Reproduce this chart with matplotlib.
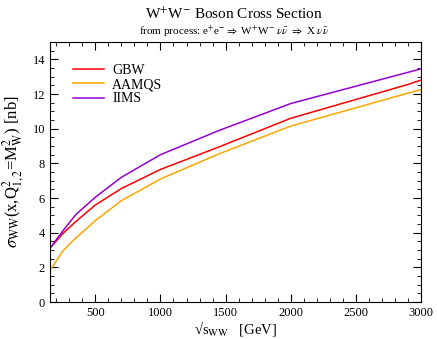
import matplotlib
matplotlib.use("Agg")
import matplotlib.pyplot as plt
from matplotlib.ticker import MultipleLocator

plt.rcParams['font.family'] = ['Liberation Serif', 'DejaVu Serif']
plt.rcParams['mathtext.fontset'] = 'stix'

# sqrt(s_WW) in GeV
s = [150, 250, 350, 500, 700, 1000, 1450, 2000, 2900, 3000]
gbw = [3.1, 3.95, 4.65, 5.6, 6.55, 7.65, 8.95, 10.6, 12.55, 12.8]
aamqs = [1.8, 2.95, 3.7, 4.7, 5.85, 7.1, 8.55, 10.15, 12.05, 12.25]
iims = [3.1, 4.1, 5.05, 6.05, 7.2, 8.5, 9.9, 11.45, 13.25, 13.45]

fig = plt.figure(figsize=(4.37, 3.39), dpi=100)
ax = fig.add_axes([0.114, 0.109, 0.849, 0.767])

ax.plot(s, gbw, color='#ff0000', lw=1.1, label='GBW')
ax.plot(s, aamqs, color='#ffa500', lw=1.1, label='AAMQS')
ax.plot(s, iims, color='#9400d3', lw=1.1, label='IIMS')

ax.set_xlim(150, 3000)
ax.set_ylim(0, 15)
ax.xaxis.set_major_locator(MultipleLocator(500))
ax.xaxis.set_minor_locator(MultipleLocator(100))
ax.yaxis.set_major_locator(MultipleLocator(2))
ax.yaxis.set_minor_locator(MultipleLocator(0.5))
ax.tick_params(which='both', direction='in', top=True, right=True, labelsize=9)
ax.tick_params(which='major', length=6)
ax.tick_params(which='minor', length=3)
ax.set_xticks([500, 1000, 1500, 2000, 2500, 3000])

ax.set_xlabel('\u221as$_{\\rm WW}$   [GeV]', fontsize=10.5, labelpad=0)
ax.set_ylabel(r'$\sigma_{\rm WW}$(x,Q$^{2}_{1,2}$=M$_{\rm W}^{2}$) [nb]', fontsize=12, labelpad=4)

ax.legend(loc='upper left', bbox_to_anchor=(0.03, 0.965), frameon=False, fontsize=10,
          handlelength=2.2, handletextpad=0.6, labelspacing=0.1)

fig.text(0.535, 0.945, r'W$^{+}$W$^{-}$ Boson Cross Section', ha='center', fontsize=11)
fig.text(0.535, 0.898, r'from process: e$^{+}$e$^{-}$$\Rightarrow$ W$^{+}$W$^{-}$ $\nu\bar{\nu}$ $\Rightarrow$ X $\nu\bar{\nu}$',
         ha='center', fontsize=8)

fig.savefig('out.png', dpi=100)
